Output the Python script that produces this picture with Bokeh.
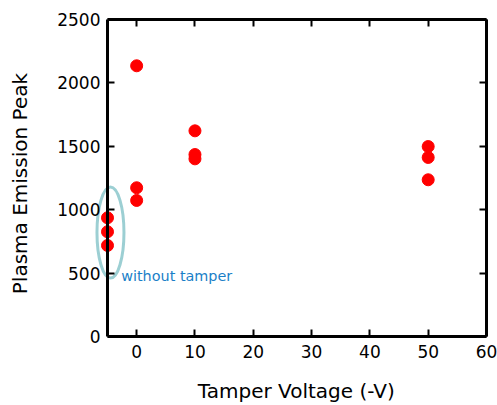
import math
from bokeh.plotting import figure
from bokeh.models import LinearAxis, FixedTicker, Range1d, Label
from bokeh.embed import file_html
from bokeh.resources import INLINE

# data
voltage = [-5, -5, -5, 0, 0, 0, 10, 10, 10, 50, 50, 50]
peak = [936, 826, 718, 2135, 1173, 1073, 1622, 1435, 1401, 1498, 1412, 1236]

x_ticks = [0, 10, 20, 30, 40, 50, 60]
y_ticks = [0, 500, 1000, 1500, 2000, 2500]
x_title = "Tamper Voltage (-V)"
y_title = "Plasma Emission Peak"

# annotation (ellipse around the "without tamper" group)
ell_x, ell_y, ell_w, ell_h = -4.49, 820, 4.63, 718
note_text = "without tamper"
note_x, note_y = -2.65, 478

FONT = "DejaVu Sans"
X_MIN, X_MAX = -5, 60
Y_MIN, Y_MAX = 0, 2500

# the frame covers the whole canvas; the box axes sit at fixed data locations
p = figure(width=497, height=405, output_backend="svg", toolbar_location=None,
           x_range=Range1d(-23.351, 61.8865), y_range=Range1d(-544.16, 2649.84),
           min_border=0, x_axis_location=None, y_axis_location=None)
p.grid.visible = False
p.outline_line_color = None
p.background_fill_color = "white"
p.border_fill_color = "white"

def make_axis(ticks, bounds, loc, labels=True):
    ax = LinearAxis(ticker=FixedTicker(ticks=ticks), bounds=bounds, fixed_location=loc)
    ax.axis_line_width = 3
    ax.axis_line_color = "black"
    ax.major_tick_line_width = 2
    ax.major_tick_line_color = "black"
    ax.major_tick_in = 7
    ax.major_tick_out = 0
    ax.minor_tick_line_color = None
    ax.major_label_text_font = FONT
    ax.major_label_text_font_size = "17px"
    ax.major_label_text_color = "black" if labels else None
    return ax

bottom = make_axis(x_ticks, (X_MIN, X_MAX), Y_MIN)
bottom.major_label_standoff = 8
left = make_axis(y_ticks, (Y_MIN, Y_MAX), X_MIN)
left.major_label_standoff = 7
top = make_axis(x_ticks, (X_MIN, X_MAX), Y_MAX, labels=False)
right = make_axis(y_ticks, (Y_MIN, Y_MAX), X_MAX, labels=False)
p.add_layout(bottom, "below")
p.add_layout(left, "left")
p.add_layout(top, "above")
p.add_layout(right, "right")

p.ellipse(x=[ell_x], y=[ell_y], width=[ell_w], height=[ell_h],
          fill_color=None, line_color="#9ccfd3", line_width=3)
p.scatter(voltage, peak, size=12, color="#ff0000")
p.add_layout(Label(x=note_x, y=note_y, text=note_text, text_color="#1a7fc8",
                   text_font=FONT, text_font_size="14.4px", text_baseline="alphabetic"))

p.add_layout(Label(x=27.38, y=-426, text=x_title,
                   text_font=FONT, text_font_size="20px", text_color="black",
                   text_align="center", text_baseline="alphabetic"))
p.add_layout(Label(x=-19.955, y=1206, text=y_title,
                   angle=math.pi / 2, text_font=FONT, text_font_size="20px", text_color="black",
                   text_align="center", text_baseline="alphabetic"))

open("out.html", "w").write(file_html(p, INLINE))
